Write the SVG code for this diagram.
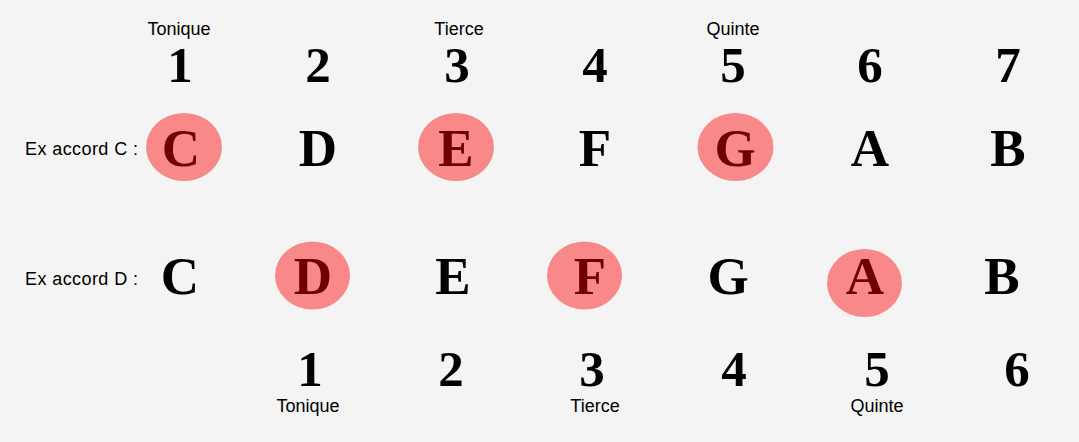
<svg xmlns="http://www.w3.org/2000/svg" width="1079" height="442" viewBox="0 0 1079 442">
<style>
.lbl{font-family:"Liberation Sans",Arial,sans-serif;font-size:18px;fill:#000;text-anchor:middle}
.side{font-family:"Liberation Sans",Arial,sans-serif;font-size:18px;fill:#000}
.num{font-family:"Liberation Serif","Times New Roman",serif;font-weight:bold;font-size:51px;fill:#000;text-anchor:middle}
.note{font-family:"Liberation Serif","Times New Roman",serif;font-weight:bold;font-size:53px;fill:#000;text-anchor:middle}
.hi{fill:#700000}
.bub{fill:#f98888}
</style>
<rect width="1079" height="442" fill="#f4f4f4"/>
<g id="row1-labels">
<text class="lbl" x="179" y="35">Tonique</text>
<text class="lbl" x="459" y="35">Tierce</text>
<text class="lbl" x="733" y="35">Quinte</text>
</g>
<g id="row1-degrees">
<text class="num" x="180" y="82">1</text>
<text class="num" x="318" y="82">2</text>
<text class="num" x="457" y="82">3</text>
<text class="num" x="595" y="82">4</text>
<text class="num" x="733" y="82">5</text>
<text class="num" x="870" y="82">6</text>
<text class="num" x="1008" y="82">7</text>
</g>
<g id="row1-notes">
<text class="side" x="25" y="155" textLength="113" lengthAdjust="spacing">Ex accord C :</text>
<g id="c1"><ellipse class="bub" cx="184" cy="147" rx="38" ry="34"/><text class="note hi" x="181" y="166">C</text></g>
<g id="d1"><text class="note" x="318" y="166">D</text></g>
<g id="e1"><ellipse class="bub" cx="456" cy="147" rx="38" ry="34"/><text class="note hi" x="456" y="166">E</text></g>
<g id="f1"><text class="note" x="595" y="166">F</text></g>
<g id="g1"><ellipse class="bub" cx="735.5" cy="147" rx="38" ry="34"/><text class="note hi" x="735" y="166">G</text></g>
<g id="a1"><text class="note" x="870" y="166">A</text></g>
<g id="b1"><text class="note" x="1008" y="166">B</text></g>
</g>
<g id="row2-notes">
<text class="side" x="25" y="285" textLength="113" lengthAdjust="spacing">Ex accord D :</text>
<g id="c2"><text class="note" x="180" y="294">C</text></g>
<g id="d2"><ellipse class="bub" cx="312.5" cy="275.5" rx="37.5" ry="34"/><text class="note hi" x="313" y="294">D</text></g>
<g id="e2"><text class="note" x="453" y="294">E</text></g>
<g id="f2"><ellipse class="bub" cx="584.5" cy="275.5" rx="37.5" ry="34"/><text class="note hi" x="590" y="294">F</text></g>
<g id="g2"><text class="note" x="728" y="294">G</text></g>
<g id="a2"><ellipse class="bub" cx="864.5" cy="283" rx="37.5" ry="34"/><text class="note hi" x="865" y="294">A</text></g>
<g id="b2"><text class="note" x="1002" y="294">B</text></g>
</g>
<g id="row2-degrees">
<text class="num" x="310" y="386">1</text>
<text class="num" x="451" y="386">2</text>
<text class="num" x="592" y="386">3</text>
<text class="num" x="734" y="386">4</text>
<text class="num" x="877" y="386">5</text>
<text class="num" x="1017" y="386">6</text>
</g>
<g id="row2-labels">
<text class="lbl" x="308" y="412">Tonique</text>
<text class="lbl" x="595" y="412">Tierce</text>
<text class="lbl" x="877" y="412">Quinte</text>
</g>
<g id="connectors"/>
</svg>
